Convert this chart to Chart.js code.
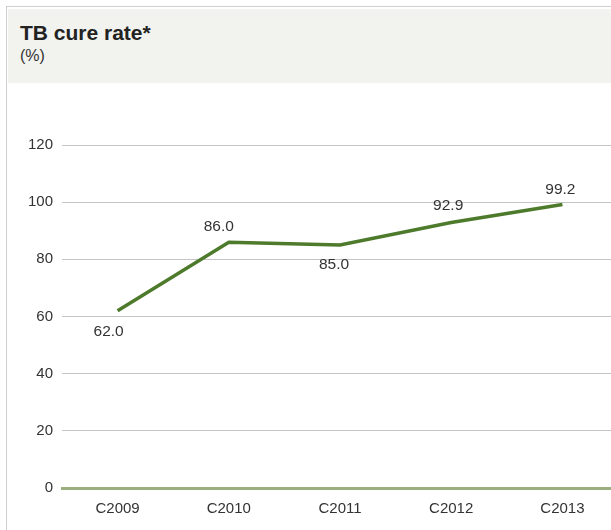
<!DOCTYPE html>
<html>
<head>
<meta charset="utf-8">
<script src="https://cdn.jsdelivr.net/npm/chart.js@4/dist/chart.umd.min.js"></script>
<style>
  html, body { margin: 0; padding: 0; background: #fff; overflow: hidden; }
  body { width: 611px; height: 530px; position: relative; font-family: "Liberation Sans", Arial, sans-serif; }
  #frame {
    position: absolute; left: 6px; top: 6px; width: 640px; height: 560px;
    border-left: 1px solid #cfcfcf; border-top: 1px solid #cfcfcf;
  }
  #head {
    position: absolute; left: 8px; top: 9px; width: 620px; height: 74px;
    background: #f2f2ee;
  }
  #head .title { position: absolute; left: 12px; top: 12px; font-size: 21px; font-weight: bold; color: #222; }
  #head .unit { position: absolute; left: 12px; top: 38px; font-size: 16px; color: #333; }
  #wrap { position: absolute; left: 0; top: 84px; width: 625px; height: 446px; }
</style>
</head>
<body>
<div id="frame"></div>
<div id="head">
  <div class="title">TB cure rate*</div>
  <div class="unit">(%)</div>
</div>
<div id="wrap"><canvas id="cureChart" width="625" height="446"></canvas></div>
<script>
const years = ['C2009', 'C2010', 'C2011', 'C2012', 'C2013'];
const cureRate = [62.0, 86.0, 85.0, 92.9, 99.2];
const yTicks = [0, 20, 40, 60, 80, 100, 120];

// where each value label sits relative to its point
const labelShift = [[-9, 21], [-10, -15], [-6, 20], [-3, -17], [-2, -15]];

const valueLabels = {
    id: 'valueLabels',
    afterDatasetsDraw(chart) {
        const ctx = chart.ctx;
        const meta = chart.getDatasetMeta(0);
        ctx.save();
        ctx.font = '15.5px "Liberation Sans", Arial, sans-serif';
        ctx.fillStyle = '#333';
        ctx.textAlign = 'center';
        ctx.textBaseline = 'middle';
        meta.data.forEach(function(pt, i) {
            const s = labelShift[i];
            ctx.fillText(cureRate[i].toFixed(1), pt.x + s[0], pt.y + s[1]);
        });
        ctx.restore();
    }
};

const ctx = document.getElementById('cureChart').getContext('2d');
new Chart(ctx, {
    type: 'line',
    data: {
        labels: years,
        datasets: [{
            data: cureRate,
            borderColor: '#4e7a2c',
            borderWidth: 3.5,
            borderJoinStyle: 'miter',
            borderCapStyle: 'butt',
            pointRadius: 0,
            tension: 0
        }]
    },
    options: {
        responsive: false,
        animation: false,
        layout: { padding: { top: 61, left: 0, right: 7, bottom: 0 } },
        plugins: {
            legend: { display: false },
            tooltip: { enabled: false }
        },
        scales: {
            x: {
                offset: true,
                grid: { display: false },
                border: { color: '#9bae7e', width: 3 },
                ticks: {
                    color: '#333',
                    font: { family: '"Liberation Sans", Arial, sans-serif', size: 15 },
                    padding: 4,
                    maxRotation: 0
                },
                afterFit(scale) { scale.height = 42; }
            },
            y: {
                min: 0,
                max: 120,
                afterBuildTicks(scale) { scale.ticks = yTicks.map(v => ({ value: v })); },
                grid: {
                    color: c => c.tick.value === 0 ? '#9bae7e' : '#c4c4c4',
                    lineWidth: c => c.tick.value === 0 ? 3 : 1,
                    drawTicks: false
                },
                border: { display: false },
                ticks: {
                    color: '#333',
                    font: { family: '"Liberation Sans", Arial, sans-serif', size: 15 },
                    padding: 9
                },
                afterFit(scale) { scale.width = 62; }
            }
        }
    },
    plugins: [valueLabels]
});
</script>
</body>
</html>
